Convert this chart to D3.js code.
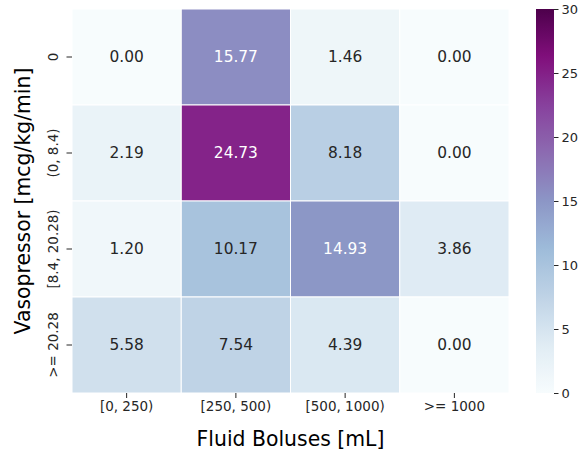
<!DOCTYPE html>
<html>
<head>
<meta charset="utf-8">
<script src="https://cdn.jsdelivr.net/npm/d3@7"></script>
<style>
  html, body { margin: 0; padding: 0; background: #fff; }
  svg { display: block; font-family: "DejaVu Sans", sans-serif; }
</style>
</head>
<body>
<svg id="chart" width="584" height="457"></svg>
<script>
// Fluid bolus bins (columns) and vasopressor dose bins (rows)
const fluidBins = ["[0, 250)", "[250, 500)", "[500, 1000)", ">= 1000"];
const vasoBins = ["0", "(0, 8.4)", "[8.4, 20.28)", ">= 20.28"];
// Percentage of actions in each bin, one array per vasopressor row
const row0 = [0.00, 15.77, 1.46, 0.00];
const row1 = [2.19, 24.73, 8.18, 0.00];
const row2 = [1.20, 10.17, 14.93, 3.86];
const row3 = [5.58, 7.54, 4.39, 0.00];
const colorTicks = [0, 5, 10, 15, 20, 25, 30];
const colorDomain = [0, 30];

const rows = [row0, row1, row2, row3];
const cells = [];
rows.forEach((r, i) => r.forEach((v, j) => cells.push({ row: vasoBins[i], col: fluidBins[j], value: v })));

// BuPu palette, linearly interpolated between its nine anchor colours
const bupu = ["#f7fcfd", "#e0ecf4", "#bfd3e6", "#9ebcda", "#8c96c6", "#8c6bb1", "#88419d", "#810f7c", "#4d004b"];
const color = d3.scaleLinear()
  .domain(d3.range(bupu.length).map(k => colorDomain[0] + (colorDomain[1] - colorDomain[0]) * k / (bupu.length - 1)))
  .range(bupu)
  .interpolate(d3.interpolateRgb)
  .clamp(true);

function luminance(c) {
  const rgb = d3.rgb(c);
  const lin = x => { x /= 255; return x <= 0.03928 ? x / 12.92 : Math.pow((x + 0.055) / 1.055, 2.4); };
  return 0.2126 * lin(rgb.r) + 0.7152 * lin(rgb.g) + 0.0722 * lin(rgb.b);
}

const svg = d3.select("#chart");
const plot = { left: 72, right: 509, top: 9, bottom: 393 };

const x = d3.scaleBand().domain(fluidBins).range([plot.left, plot.right]);
const y = d3.scaleBand().domain(vasoBins).range([plot.top, plot.bottom]);

// Heatmap cells
svg.append("g").selectAll("rect").data(cells).join("rect")
  .attr("x", d => x(d.col))
  .attr("y", d => y(d.row))
  .attr("width", x.bandwidth())
  .attr("height", y.bandwidth())
  .attr("fill", d => color(d.value))
  .attr("stroke", "#fff")
  .attr("stroke-width", 1);

// Annotations
svg.append("g").selectAll("text").data(cells).join("text")
  .attr("x", d => x(d.col) + x.bandwidth() / 2)
  .attr("y", d => y(d.row) + y.bandwidth() / 2)
  .attr("text-anchor", "middle")
  .attr("dominant-baseline", "central")
  .attr("font-size", 15.4)
  .attr("fill", d => luminance(color(d.value)) > 0.408 ? "#262626" : "#ffffff")
  .text(d => d.value.toFixed(2));

// X axis
const xAxis = svg.append("g")
  .attr("transform", `translate(0,${plot.bottom})`)
  .call(d3.axisBottom(x).tickSize(5).tickPadding(3));
xAxis.select(".domain").remove();
xAxis.selectAll(".tick line").attr("stroke", "#262626").attr("stroke-width", 1);
xAxis.selectAll(".tick text")
  .attr("font-size", 13.5)
  .attr("font-family", "DejaVu Sans, sans-serif")
  .attr("fill", "#262626");

// Y axis with rotated labels
const yAxis = svg.append("g")
  .attr("transform", `translate(${plot.left},0)`)
  .call(d3.axisLeft(y).tickSize(5.5));
yAxis.select(".domain").remove();
yAxis.selectAll(".tick line").attr("stroke", "#262626").attr("stroke-width", 1);
yAxis.selectAll(".tick text")
  .attr("font-size", 13.5)
  .attr("font-family", "DejaVu Sans, sans-serif")
  .attr("fill", "#262626")
  .attr("x", null).attr("dy", null)
  .attr("text-anchor", "middle")
  .attr("transform", "translate(-14,0) rotate(-90)");

// Axis titles
svg.append("text")
  .attr("x", (plot.left + plot.right) / 2)
  .attr("y", 446)
  .attr("text-anchor", "middle")
  .attr("font-size", 20.4)
  .attr("fill", "#000")
  .text("Fluid Boluses [mL]");

svg.append("text")
  .attr("transform", `translate(30,${(plot.top + plot.bottom) / 2}) rotate(-90)`)
  .attr("text-anchor", "middle")
  .attr("font-size", 20.4)
  .attr("fill", "#000")
  .text("Vasopressor [mcg/kg/min]");

// Colour bar
const cbar = { x: 536, width: 18 };
const cbY = d3.scaleLinear().domain(colorDomain).range([plot.bottom, plot.top]);
const defs = svg.append("defs");
const grad = defs.append("linearGradient")
  .attr("id", "cbar-grad")
  .attr("x1", 0).attr("y1", 1).attr("x2", 0).attr("y2", 0);
d3.range(0, 1.0001, 0.02).forEach(t => {
  grad.append("stop")
    .attr("offset", t)
    .attr("stop-color", color(colorDomain[0] + t * (colorDomain[1] - colorDomain[0])));
});
svg.append("rect")
  .attr("x", cbar.x)
  .attr("y", plot.top)
  .attr("width", cbar.width)
  .attr("height", plot.bottom - plot.top)
  .attr("fill", "url(#cbar-grad)");

const cAxis = svg.append("g")
  .attr("transform", `translate(${cbar.x + cbar.width},0)`)
  .call(d3.axisRight(cbY).tickValues(colorTicks).tickSize(4.5).tickPadding(3));
cAxis.select(".domain").remove();
cAxis.selectAll(".tick line").attr("stroke", "#262626");
cAxis.selectAll(".tick text")
  .attr("font-size", 13)
  .attr("font-family", "DejaVu Sans, sans-serif")
  .attr("fill", "#262626");
</script>
</body>
</html>
